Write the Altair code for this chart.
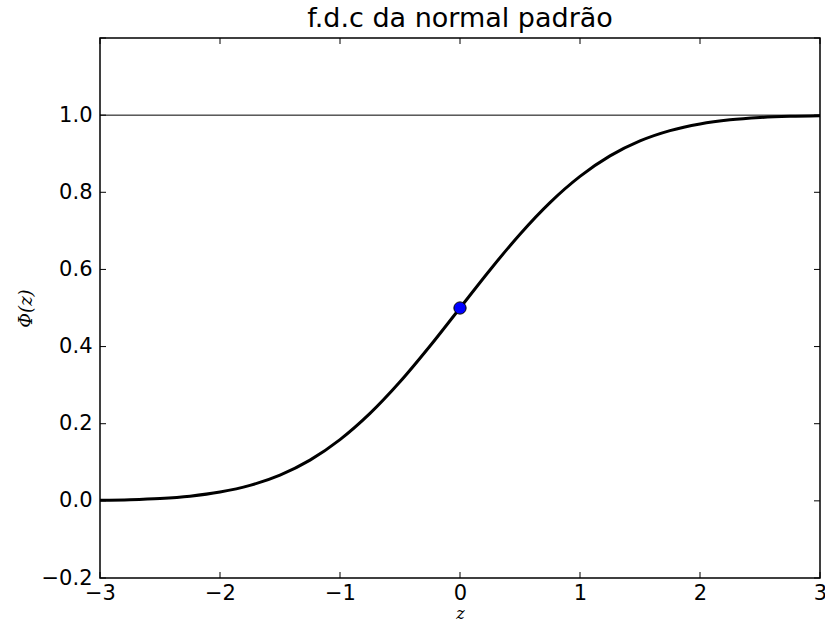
import altair as alt
import pandas as pd

# curve values
z_vals = [-3.0, -2.75, -2.5, -2.25, -2.0, -1.75, -1.5, -1.25, -1.0, -0.75, -0.5, -0.25,
          0.0, 0.25, 0.5, 0.75, 1.0, 1.25, 1.5, 1.75, 2.0, 2.25, 2.5, 2.75, 3.0]
phi_vals = [0.0013, 0.0030, 0.0062, 0.0122, 0.0228, 0.0401, 0.0668, 0.1056, 0.1587, 0.2266,
            0.3085, 0.4013, 0.5, 0.5987, 0.6915, 0.7734, 0.8413, 0.8944, 0.9332, 0.9599,
            0.9772, 0.9878, 0.9938, 0.9970, 0.9987]
point_z = [0.0]
point_phi = [0.5]
hline_y = [1.0]
x_ticks = [-3, -2, -1, 0, 1, 2, 3]
y_ticks = [-0.2, 0.0, 0.2, 0.4, 0.6, 0.8, 1.0, 1.2]
y_labels = [-0.2, 0.0, 0.2, 0.4, 0.6, 0.8, 1.0]
title_text = "f.d.c da normal padrão"

W, H = 720, 540
TL = 6

curve_df = pd.DataFrame({"z": z_vals, "phi": phi_vals})
point_df = pd.DataFrame({"z": point_z, "phi": point_phi})
hline_df = pd.DataFrame({"y": hline_y})
xt_df = pd.DataFrame({"t": x_ticks})
yt_df = pd.DataFrame({"t": y_ticks})

xscale = alt.Scale(domain=[-3, 3], nice=False, zero=False)
yscale = alt.Scale(domain=[-0.2, 1.2], nice=False, zero=False)

minus_expr = "replace(datum.label, '-', '\u2212')"

x_axis = alt.Axis(values=x_ticks, format="d", labelExpr=minus_expr, ticks=False, domain=False,
                  grid=False, labelFont="DejaVu Sans", labelFontSize=21, labelColor="black",
                  labelPadding=4, labelFlush=False, labelOverlap=False,
                  title="z", titleFont="DejaVu Serif", titleFontStyle="italic",
                  titleFontWeight="normal", titleFontSize=16, titleColor="black",
                  titlePadding=2)
y_axis = alt.Axis(values=y_labels, format=".1f", labelExpr=minus_expr, ticks=False, domain=False,
                  grid=False, labelFont="DejaVu Sans", labelFontSize=21, labelColor="black",
                  labelPadding=8, labelFlush=False, labelOverlap=False,
                  title="Φ(z)", titleFont="DejaVu Serif", titleFontStyle="italic",
                  titleFontWeight="normal", titleFontSize=18, titleColor="black",
                  titleX=-74, titleY=270, titleAlign="center", titleAngle=270,
                  titleBaseline="middle")

curve = alt.Chart(curve_df).mark_line(color="black", strokeWidth=3, interpolate="monotone").encode(
    x=alt.X("z:Q", scale=xscale, axis=x_axis),
    y=alt.Y("phi:Q", scale=yscale, axis=y_axis),
)

hline = alt.Chart(hline_df).mark_rule(color="black", strokeWidth=1).encode(
    y=alt.Y("y:Q", scale=yscale)
)

pt = alt.Chart(point_df).mark_point(filled=True, shape="circle", size=150, fill="#0000ff",
                                    stroke="black", strokeWidth=1, opacity=1).encode(
    x=alt.X("z:Q", scale=xscale),
    y=alt.Y("phi:Q", scale=yscale),
)

xt_bottom = alt.Chart(xt_df).mark_rule(color="black", strokeWidth=1).encode(
    x=alt.X("t:Q", scale=xscale), y=alt.value(H - TL), y2=alt.value(H))
xt_top = alt.Chart(xt_df).mark_rule(color="black", strokeWidth=1).encode(
    x=alt.X("t:Q", scale=xscale), y=alt.value(0), y2=alt.value(TL))
yt_left = alt.Chart(yt_df).mark_rule(color="black", strokeWidth=1).encode(
    y=alt.Y("t:Q", scale=yscale), x=alt.value(0), x2=alt.value(TL))
yt_right = alt.Chart(yt_df).mark_rule(color="black", strokeWidth=1).encode(
    y=alt.Y("t:Q", scale=yscale), x=alt.value(W - TL), x2=alt.value(W))

chart = alt.layer(hline, xt_bottom, xt_top, yt_left, yt_right, curve, pt).properties(
    width=W, height=H,
    title=alt.TitleParams(title_text, font="DejaVu Sans", fontSize=27, fontWeight="normal",
                          color="black", anchor="middle", offset=5),
    autosize=alt.AutoSizeParams(type="none"),
    padding={"left": 100, "top": 38, "right": 5, "bottom": 43},
).configure(background="white").configure_view(stroke="black", strokeWidth=1.5)

chart.save("out.html", embed_options={"renderer": "svg", "actions": False})
